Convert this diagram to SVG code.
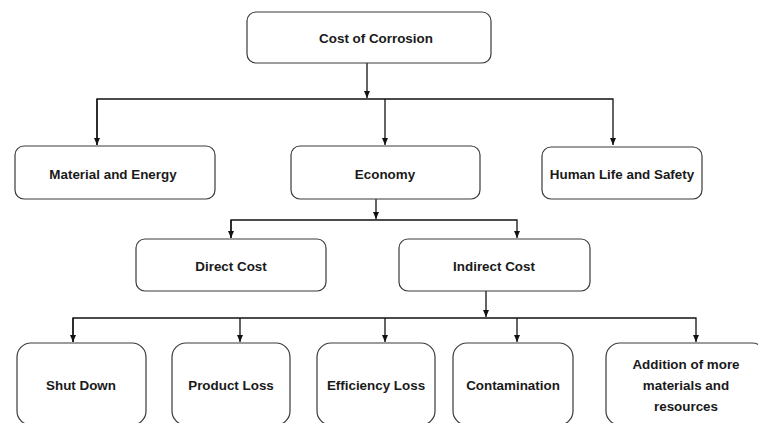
<svg xmlns="http://www.w3.org/2000/svg" width="758" height="423" viewBox="0 0 758 423">
<style>
.box{fill:#fff;stroke:#3a3a3a;stroke-width:1.2}
.lbl{font-family:"Liberation Sans",Arial,sans-serif;font-weight:bold;font-size:13.4px;fill:#1a1a1a;text-anchor:middle}
.c{fill:none;stroke:#111;stroke-width:1.3}
</style>
<defs>
<marker id="ah" markerUnits="userSpaceOnUse" markerWidth="7" markerHeight="6" refX="7" refY="3" orient="auto">
<path d="M0,0 L7,3 L0,6 z" fill="#111"/>
</marker>
</defs>
<rect width="758" height="423" fill="#fff"/>
<g id="connectors">
<path class="c" d="M367,63 V98" marker-end="url(#ah)"/>
<path class="c" d="M97,145 V99 H613 V145" marker-end="url(#ah)"/>
<path class="c" d="M97,99 V145" marker-end="url(#ah)"/>
<path class="c" d="M385,99 V145" marker-end="url(#ah)"/>
<path class="c" d="M376,199 V219" marker-end="url(#ah)"/>
<path class="c" d="M231,238 V220 H517 V238" marker-end="url(#ah)"/>
<path class="c" d="M231,220 V238" marker-end="url(#ah)"/>
<path class="c" d="M486,291 V317" marker-end="url(#ah)"/>
<path class="c" d="M73,342 V318 H696 V342" marker-end="url(#ah)"/>
<path class="c" d="M73,318 V342" marker-end="url(#ah)"/>
<path class="c" d="M240,318 V342" marker-end="url(#ah)"/>
<path class="c" d="M385,318 V342" marker-end="url(#ah)"/>
<path class="c" d="M517,318 V342" marker-end="url(#ah)"/>
</g>
<g id="n-cost">
<rect class="box" x="247" y="12" width="244" height="51" rx="9"/>
<text class="lbl" x="376" y="43">Cost of Corrosion</text>
</g>
<g id="n-material">
<rect class="box" x="15" y="146" width="200" height="53" rx="9"/>
<text class="lbl" x="113" y="179">Material and Energy</text>
</g>
<g id="n-economy">
<rect class="box" x="291" y="146" width="189" height="53" rx="9"/>
<text class="lbl" x="385" y="179">Economy</text>
</g>
<g id="n-human">
<rect class="box" x="542" y="147" width="160" height="52" rx="9"/>
<text class="lbl" x="622" y="179">Human Life and Safety</text>
</g>
<g id="n-direct">
<rect class="box" x="136" y="239" width="190" height="52" rx="9"/>
<text class="lbl" x="231" y="271">Direct Cost</text>
</g>
<g id="n-indirect">
<rect class="box" x="399" y="239" width="191" height="52" rx="9"/>
<text class="lbl" x="494" y="271">Indirect Cost</text>
</g>
<g id="n-shutdown">
<rect class="box" x="17" y="343" width="129" height="82" rx="14"/>
<text class="lbl" x="81" y="390">Shut Down</text>
</g>
<g id="n-product">
<rect class="box" x="172" y="343" width="118" height="82" rx="14"/>
<text class="lbl" x="231" y="390">Product Loss</text>
</g>
<g id="n-efficiency">
<rect class="box" x="317" y="343" width="118" height="82" rx="14"/>
<text class="lbl" x="376" y="390">Efficiency Loss</text>
</g>
<g id="n-contamination">
<rect class="box" x="453" y="343" width="120" height="82" rx="14"/>
<text class="lbl" x="513" y="390">Contamination</text>
</g>
<g id="n-addition">
<rect class="box" x="606" y="343" width="160" height="82" rx="14"/>
<text class="lbl" x="686" y="369">Addition of more</text>
<text class="lbl" x="686" y="390">materials and</text>
<text class="lbl" x="686" y="411">resources</text>
</g>
</svg>
